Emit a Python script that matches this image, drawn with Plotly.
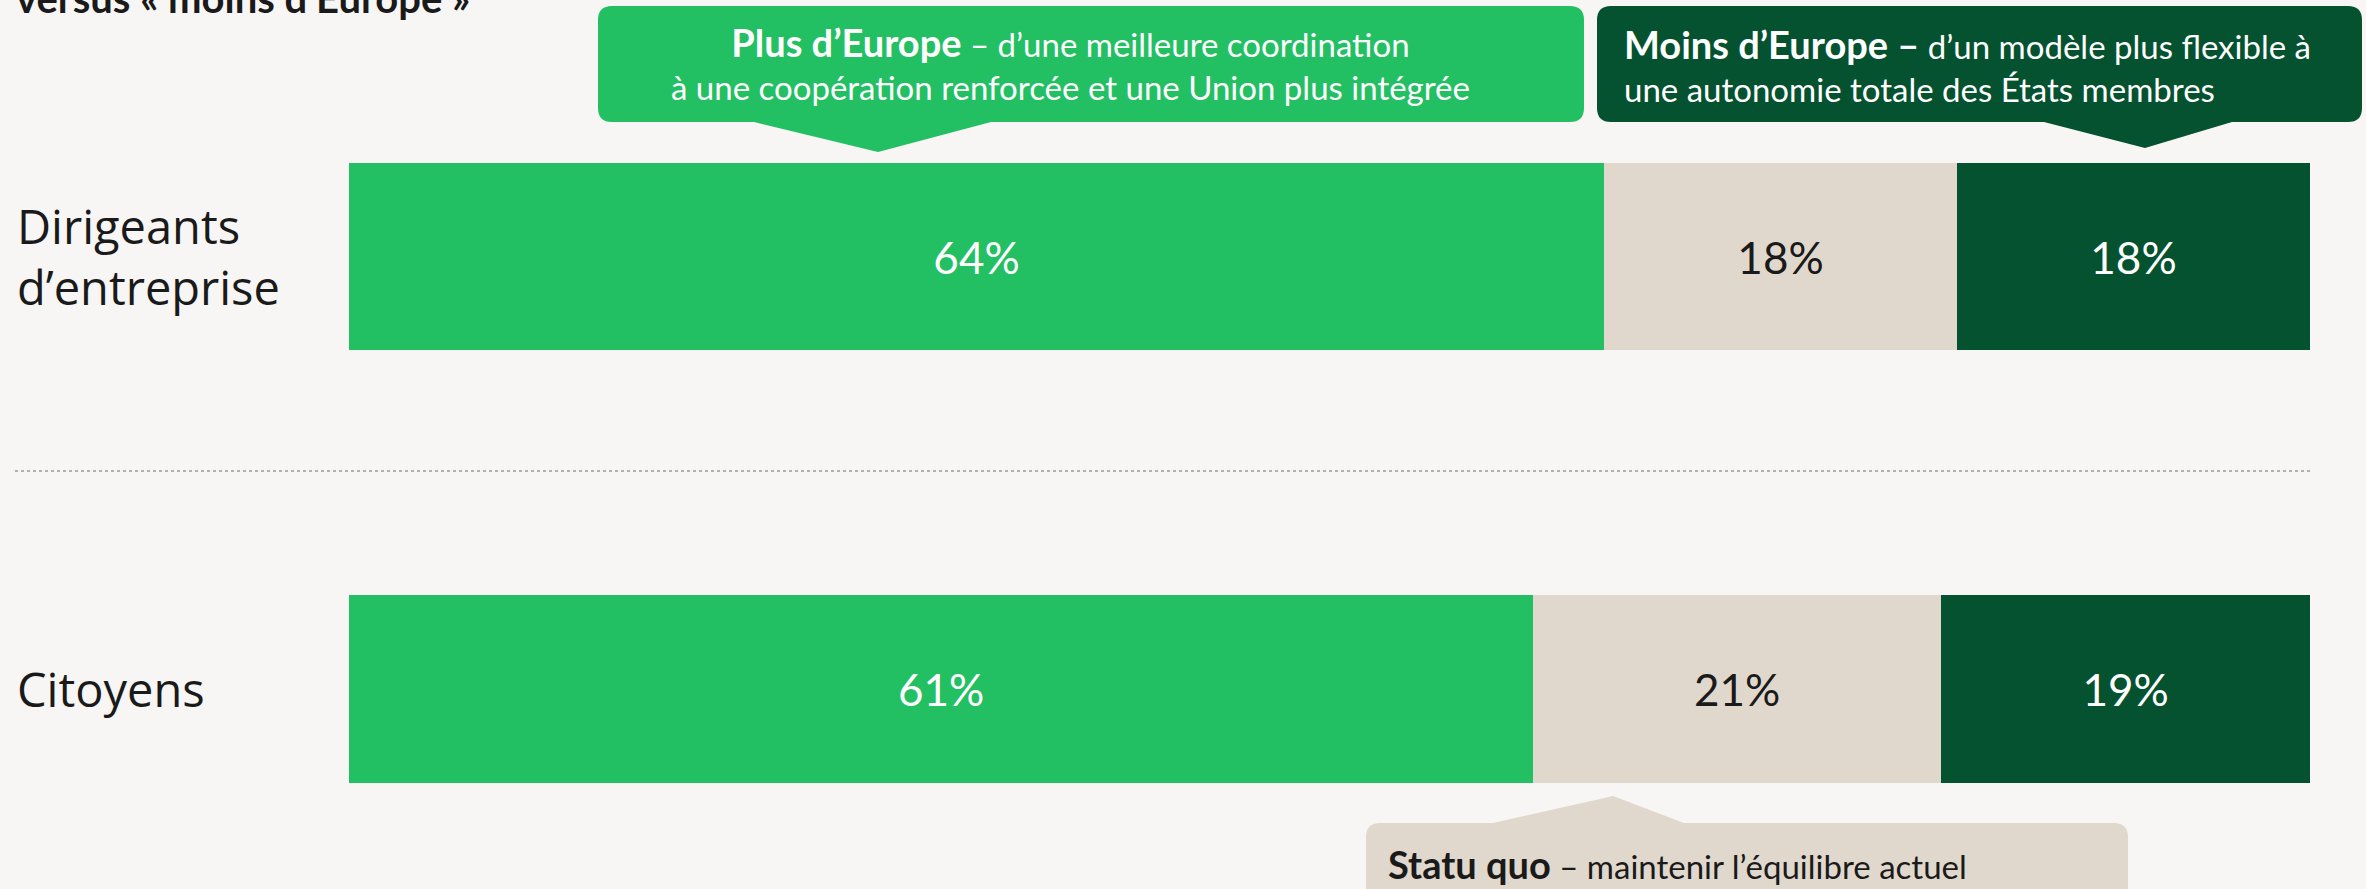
import plotly.graph_objects as go

W, H = 2366, 889
BG, GREEN, BEIGE, DARK, INK = "#f7f6f4", "#22c063", "#e1d8cd", "#04522f", "#1a1a1a"
FONT = "Lato, 'Open Sans', sans-serif"
LABEL_FONT = "'Open Sans', 'Noto Sans', sans-serif"

categories = ["Dirigeants<br>d’entreprise", "Citoyens"]
plus_europe = [64, 61]
statu_quo = [18, 21]
moins_europe = [18, 19]

series = [
    (plus_europe, GREEN, "white"),
    (statu_quo, BEIGE, INK),
    (moins_europe, DARK, "white"),
]


def px(x, y):
    return f"{x / W:.5f},{1 - y / H:.5f}"


def callout_path(x0, y0, x1, y1, tip, base, r=14, top=False):
    """Rounded box with a triangular pointer, built in pixels -> paper coords."""
    tx, ty = tip
    b0, b1 = base
    p = [f"M{px(x0 + r, y0)}"]
    if top:
        p += [f"L{px(b0, y0)}", f"L{px(tx, ty)}", f"L{px(b1, y0)}"]
    p += [f"L{px(x1 - r, y0)}", f"Q{px(x1, y0)} {px(x1, y0 + r)}",
          f"L{px(x1, y1 - r)}", f"Q{px(x1, y1)} {px(x1 - r, y1)}"]
    if not top:
        p += [f"L{px(b1, y1)}", f"L{px(tx, ty)}", f"L{px(b0, y1)}"]
    p += [f"L{px(x0 + r, y1)}", f"Q{px(x0, y1)} {px(x0, y1 - r)}",
          f"L{px(x0, y0 + r)}", f"Q{px(x0, y0)} {px(x0 + r, y0)}", "Z"]
    return " ".join(p)


fig = go.Figure()
domains = [[1 - 350 / H, 1 - 163 / H], [1 - 783 / H, 1 - 595 / H]]
for i, cat in enumerate(categories):
    sfx = "" if i == 0 else str(i + 1)
    for vals, color, tcol in series:
        fig.add_trace(go.Bar(
            x=[vals[i]], y=[cat], orientation="h", xaxis="x" + sfx, yaxis="y" + sfx,
            marker=dict(color=color, line=dict(width=0)), width=1,
            text=[f"{vals[i]}%"], textposition="inside", insidetextanchor="middle",
            textangle=0, constraintext="none",
            textfont=dict(family=FONT, size=44, color=tcol),
            hoverinfo="skip", showlegend=False))
    total = sum(v[i] for v, _, _ in series)
    fig.update_layout(**{
        "xaxis" + sfx: dict(domain=[349 / W, 2310 / W], range=[0, total], visible=False,
                            anchor="y" + sfx, fixedrange=True),
        "yaxis" + sfx: dict(domain=domains[i], range=[-0.5, 0.5], visible=False,
                            anchor="x" + sfx, fixedrange=True),
    })
    fig.add_annotation(x=15 / W, xref="paper", y=cat, yref="y" + sfx, text=cat,
                       showarrow=False, xanchor="left", align="left", yanchor="middle",
                       font=dict(family=LABEL_FONT, size=47, color=INK))

shapes = [
    dict(type="line", xref="paper", yref="paper", x0=15 / W, x1=2310 / W,
         y0=1 - 471 / H, y1=1 - 471 / H, line=dict(color="#9a9a9a", width=1.5, dash="dot")),
    dict(type="path", xref="paper", yref="paper", fillcolor=GREEN, line=dict(width=0),
         path=callout_path(598, 6, 1584, 122, (878, 152), (754, 991))),
    dict(type="path", xref="paper", yref="paper", fillcolor=DARK, line=dict(width=0),
         path=callout_path(1597, 6, 2362, 122, (2145, 148), (2044, 2232))),
    dict(type="path", xref="paper", yref="paper", fillcolor=BEIGE, line=dict(width=0),
         path=callout_path(1366, 823, 2128, 905, (1613, 796), (1493, 1684), top=True)),
]

big = "<span style='font-size:38px'><b>{}</b></span>"
annotations = [
    dict(x=1070 / W, y=1 - 63 / H, xanchor="center", yanchor="middle", align="center",
         text=big.format("Plus d’Europe") + " – d’une meilleure coordination<br>"
              "à une coopération renforcée et une Union plus intégrée",
         font=dict(family=FONT, size=33, color="white")),
    dict(x=1622 / W, y=1 - 65 / H, xanchor="left", yanchor="middle", align="left",
         text=big.format("Moins d’Europe –") + " d’un modèle plus flexible à<br>"
              "une autonomie totale des États membres",
         font=dict(family=FONT, size=33, color="white")),
    dict(x=1386 / W, y=1 - 864 / H, xanchor="left", yanchor="middle", align="left",
         text=big.format("Statu quo") + " – maintenir l’équilibre actuel",
         font=dict(family=FONT, size=33, color=INK)),
    dict(x=14 / W, y=1 - 24 / H, xanchor="left", yanchor="bottom", align="left",
         text="<b>versus « moins d’Europe »</b>",
         font=dict(family=FONT, size=40, color=INK)),
]
for a in annotations:
    fig.add_annotation(xref="paper", yref="paper", showarrow=False, **a)

fig.update_layout(
    width=W, height=H, autosize=False, barmode="stack",
    paper_bgcolor=BG, plot_bgcolor=BG, margin=dict(l=0, r=0, t=0, b=0),
    shapes=shapes, showlegend=False)

fig.write_html("out.html", config={"displayModeBar": False},
               post_script="document.body.style.margin='0';")
